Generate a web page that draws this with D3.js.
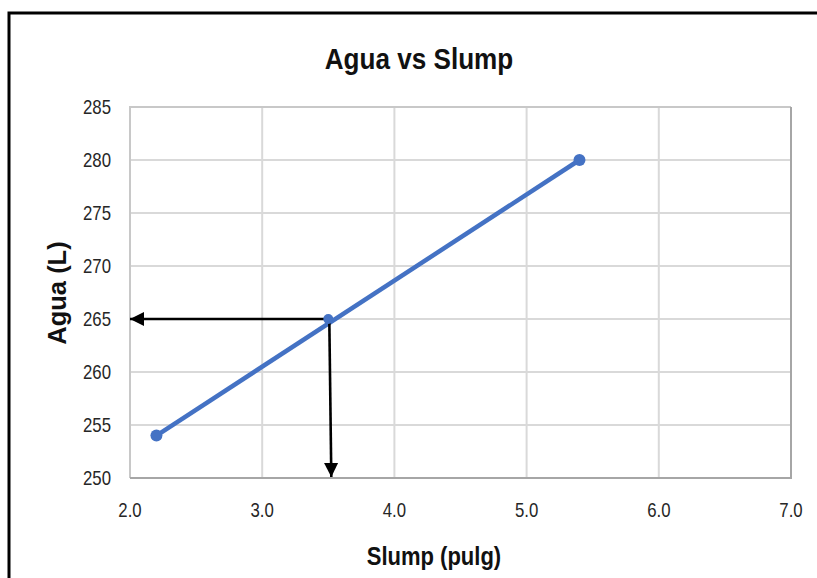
<!DOCTYPE html>
<html>
<head>
<meta charset="utf-8">
<script src="https://cdn.jsdelivr.net/npm/d3@7"></script>
<style>
  body { margin: 0; background: #fff; }
  svg { display: block; }
  .tick-label { font-family: "Liberation Sans", Arial, sans-serif; font-size: 20px; fill: #262626; }
</style>
</head>
<body>
<svg id="chart" width="817" height="578"></svg>
<script>
// Data
var slumpValues = [2.2, 5.4];
var aguaValues = [254, 280];
var readSlump = [3.5];
var readAgua = [265];
var xTicks = [2, 3, 4, 5, 6, 7];
var yTicks = [250, 255, 260, 265, 270, 275, 280, 285];

var svg = d3.select("#chart");
var margin = {left: 130, top: 107, right: 26, bottom: 100};
var width = 817, height = 578;
var narrow = 0.84; // squeeze text horizontally, no narrow font installed

var x = d3.scaleLinear().domain([2, 7]).range([margin.left, width - margin.right]);
var y = d3.scaleLinear().domain([250, 285]).range([height - margin.bottom, margin.top]);

// Outer frame, runs off the right and bottom edge like the source
svg.append("rect")
  .attr("x", 9).attr("y", 13)
  .attr("width", 900).attr("height", 700)
  .attr("fill", "none")
  .attr("stroke", "#000")
  .attr("stroke-width", 3);

svg.append("defs").append("marker")
  .attr("id", "arrow")
  .attr("viewBox", "0 0 10 10")
  .attr("refX", 10).attr("refY", 5)
  .attr("markerWidth", 5.5).attr("markerHeight", 6.5)
  .attr("markerUnits", "strokeWidth")
  .attr("orient", "auto")
  .append("path")
  .attr("d", "M0,0L10,5L0,10Z")
  .attr("fill", "#000");

// Grid lines
svg.append("g").selectAll("line")
  .data(xTicks)
  .enter().append("line")
  .attr("x1", function(d) { return x(d); })
  .attr("x2", function(d) { return x(d); })
  .attr("y1", y(250)).attr("y2", y(285))
  .attr("stroke", "#d9d9d9")
  .attr("stroke-width", 2);

svg.append("g").selectAll("line")
  .data(yTicks)
  .enter().append("line")
  .attr("x1", x(2)).attr("x2", x(7))
  .attr("y1", function(d) { return y(d); })
  .attr("y2", function(d) { return y(d); })
  .attr("stroke", "#d9d9d9")
  .attr("stroke-width", 2);

// Plot area outline: lighter on left/top, darker on right/bottom
svg.append("path")
  .attr("d", "M" + x(2) + "," + y(250) + "V" + y(285) + "H" + x(7))
  .attr("fill", "none")
  .attr("stroke", "#c8c8c8")
  .attr("stroke-width", 2);
svg.append("path")
  .attr("d", "M" + x(7) + "," + y(285) + "V" + y(250) + "H" + x(2))
  .attr("fill", "none")
  .attr("stroke", "#a6a6a6")
  .attr("stroke-width", 2);

// Tick labels
svg.append("g").selectAll("text")
  .data(yTicks)
  .enter().append("text")
  .attr("class", "tick-label")
  .attr("transform", function(d) {
    return "translate(" + (x(2) - 19) + "," + y(d) + ") scale(" + narrow + ",1)";
  })
  .attr("dy", "0.36em")
  .attr("text-anchor", "end")
  .text(function(d) { return d; });

svg.append("g").selectAll("text")
  .data(xTicks)
  .enter().append("text")
  .attr("class", "tick-label")
  .attr("transform", function(d) {
    return "translate(" + x(d) + "," + (y(250) + 39) + ") scale(" + narrow + ",1)";
  })
  .attr("text-anchor", "middle")
  .text(function(d) { return d3.format(".1f")(d); });

// The series
var pts = slumpValues.map(function(d, i) { return [d, aguaValues[i]]; });
var line = d3.line()
  .x(function(d) { return x(d[0]); })
  .y(function(d) { return y(d[1]); });

svg.append("path")
  .datum(pts)
  .attr("d", line)
  .attr("fill", "none")
  .attr("stroke", "#4472c4")
  .attr("stroke-width", 4.5);

svg.append("g").selectAll("circle")
  .data(pts)
  .enter().append("circle")
  .attr("cx", function(d) { return x(d[0]); })
  .attr("cy", function(d) { return y(d[1]); })
  .attr("r", 6)
  .attr("fill", "#4472c4");

// Reading arrows
svg.append("line")
  .attr("x1", x(readSlump[0])).attr("y1", y(readAgua[0]))
  .attr("x2", x(2)).attr("y2", y(readAgua[0]))
  .attr("stroke", "#000").attr("stroke-width", 2.6)
  .attr("marker-end", "url(#arrow)");

svg.append("line")
  .attr("x1", x(readSlump[0]) + 1).attr("y1", y(readAgua[0]))
  .attr("x2", x(readSlump[0]) + 3).attr("y2", y(250) - 1)
  .attr("stroke", "#000").attr("stroke-width", 2.6)
  .attr("marker-end", "url(#arrow)");

// Read point marker sits on top of the arrows
svg.append("circle")
  .attr("cx", x(readSlump[0]))
  .attr("cy", y(readAgua[0]))
  .attr("r", 5)
  .attr("fill", "#4472c4");

// Titles
svg.append("text")
  .attr("transform", "translate(419,69) scale(0.9,1)")
  .attr("text-anchor", "middle")
  .attr("font-family", "Liberation Sans, Arial, sans-serif")
  .attr("font-weight", "bold")
  .attr("font-size", 29)
  .attr("fill", "#111")
  .text("Agua vs Slump");

svg.append("text")
  .attr("transform", "translate(434,565) scale(0.88,1)")
  .attr("text-anchor", "middle")
  .attr("font-family", "Liberation Sans, Arial, sans-serif")
  .attr("font-weight", "bold")
  .attr("font-size", 25)
  .attr("fill", "#111")
  .text("Slump (pulg)");

svg.append("text")
  .attr("transform", "translate(66,293) rotate(-90)")
  .attr("text-anchor", "middle")
  .attr("font-family", "Liberation Sans, Arial, sans-serif")
  .attr("font-weight", "bold")
  .attr("font-size", 25.5)
  .attr("fill", "#111")
  .text("Agua (L)");
</script>
</body>
</html>
